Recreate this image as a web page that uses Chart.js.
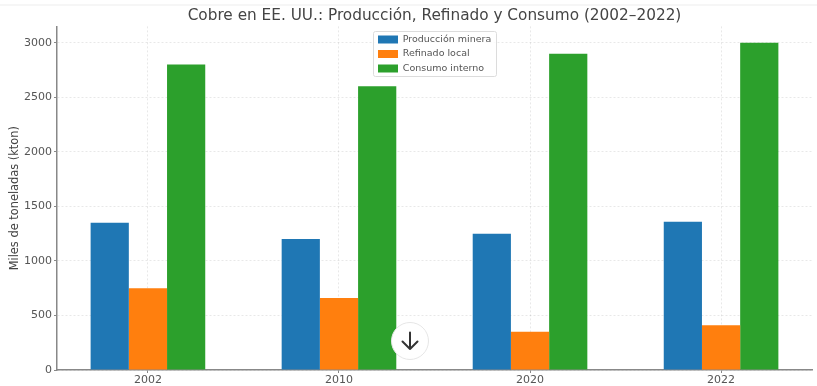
<!DOCTYPE html>
<html>
<head>
<meta charset="utf-8">
<title>Cobre en EE. UU.</title>
<script src="https://cdn.jsdelivr.net/npm/chart.js@4/dist/chart.umd.js"></script>
<style>
  html, body { margin: 0; padding: 0; background: #fff; }
  #wrap { position: relative; width: 817px; height: 386px; overflow: hidden; }
  #topLine { position: absolute; left: 0; top: 4px; width: 817px; height: 2px; background: #f6f6f6; }
  #chart { filter: blur(0.4px); }
  #down {
    position: absolute; left: 391px; top: 322px; width: 38px; height: 38px;
    border-radius: 50%; background: #fff; border: 1px solid #e6e6e6; box-sizing: border-box;
  }
  #down svg { display: block; width: 36px; height: 36px; }
</style>
</head>
<body>
<div id="wrap">
  <div id="topLine"></div>
  <canvas id="chart" width="817" height="386"></canvas>
  <div id="down">
    <svg viewBox="0 0 36 36"><path d="M18 9.5V26M10.5 18.5L18 26l7.5-7.5" fill="none" stroke="#333" stroke-width="2" stroke-linecap="round" stroke-linejoin="round"/></svg>
  </div>
</div>
<script>
const categories = ["2002", "2010", "2020", "2022"];
const produccion = [1350, 1200, 1250, 1360];
const refinado = [750, 660, 350, 410];
const consumo = [2800, 2600, 2900, 3000];
const yTicks = [0, 500, 1000, 1500, 2000, 2500, 3000];

const textColor = "#555";
const fontName = "'DejaVu Sans'";

function points(values) {
  return values.map((v, i) => ({ x: i, y: v }));
}

// matplotlib style legend box, sits inside the plot and is drawn over the grid
const legendBox = {
  id: "legendBox",
  afterLayout(chart) {
    const l = chart.legend;
    l.left = 373;
    l.top = 24;
    l.width = 124;
    l.height = 60; // taller than the frame so the third row does not wrap
    l.right = l.left + l.width;
    l.bottom = l.top + l.height;
    l.adjustHitBoxes();
    if (!l.drawOrig) {
      l.drawOrig = l.draw;
      l.draw = function () {
        const ctx = chart.ctx;
        ctx.save();
        ctx.beginPath();
        ctx.roundRect(l.left + 0.5, 31.5, l.width - 1, 45, 2);
        ctx.fillStyle = "rgba(255,255,255,0.8)";
        ctx.fill();
        ctx.strokeStyle = "#dcdcdc";
        ctx.lineWidth = 1;
        ctx.stroke();
        ctx.restore();
        l.drawOrig();
      };
    }
  },
};

new Chart(document.getElementById("chart"), {
  type: "bar",
  data: {
    datasets: [
      { label: "Producción minera", data: points(produccion), backgroundColor: "#1f77b4" },
      { label: "Refinado local", data: points(refinado), backgroundColor: "#ff7f0e" },
      { label: "Consumo interno", data: points(consumo), backgroundColor: "#2ca02c" },
    ],
  },
  options: {
    responsive: false,
    animation: false,
    categoryPercentage: 0.6,
    barPercentage: 1,
    layout: { padding: { right: 5, top: 0, bottom: 0, left: 0 } },
    plugins: {
      tooltip: { enabled: false },
      title: {
        display: true,
        fullSize: false,
        text: "Cobre en EE. UU.: Producción, Refinado y Consumo (2002–2022)",
        color: "#444",
        font: { family: fontName, size: 15.3, weight: "normal", lineHeight: 1.2 },
        padding: { top: 7, bottom: 1 },
      },
      legend: {
        position: "chartArea",
        labels: {
          boxWidth: 20,
          boxHeight: 8,
          padding: 5,
          color: textColor,
          font: { family: fontName, size: 9.5 },
        },
      },
    },
    scales: {
      x: {
        type: "linear",
        offset: false,
        min: -0.476,
        max: 3.476,
        afterBuildTicks(scale) {
          scale.ticks = categories.map((c, i) => ({ value: i }));
        },
        afterFit(scale) { scale.height = 16; },
        ticks: {
          autoSkip: false,
          maxRotation: 0,
          padding: 1,
          color: textColor,
          font: { family: fontName, size: 11 },
          callback: (v) => categories[v],
        },
        grid: { offset: false, color: "rgba(0,0,0,0.09)", tickColor: "#888", tickLength: 3 },
        border: { color: "#888", width: 1.5, dash: [2, 2] },
      },
      y: {
        min: 0,
        max: 3150,
        afterBuildTicks(scale) {
          scale.ticks = yTicks.map((v) => ({ value: v }));
        },
        afterFit(scale) { scale.width = 57; },
        ticks: {
          padding: 2,
          color: textColor,
          font: { family: fontName, size: 11 },
          callback: (v) => String(v),
        },
        title: {
          display: true,
          text: "Miles de toneladas (kton)",
          color: "#444",
          font: { family: fontName, size: 11.4 },
          padding: { top: 8, bottom: 0 },
        },
        grid: { color: "rgba(0,0,0,0.09)", tickColor: "#888", tickLength: 3 },
        border: { color: "#888", width: 1.5, dash: [2, 2] },
      },
    },
  },
  plugins: [legendBox],
});
</script>
</body>
</html>
